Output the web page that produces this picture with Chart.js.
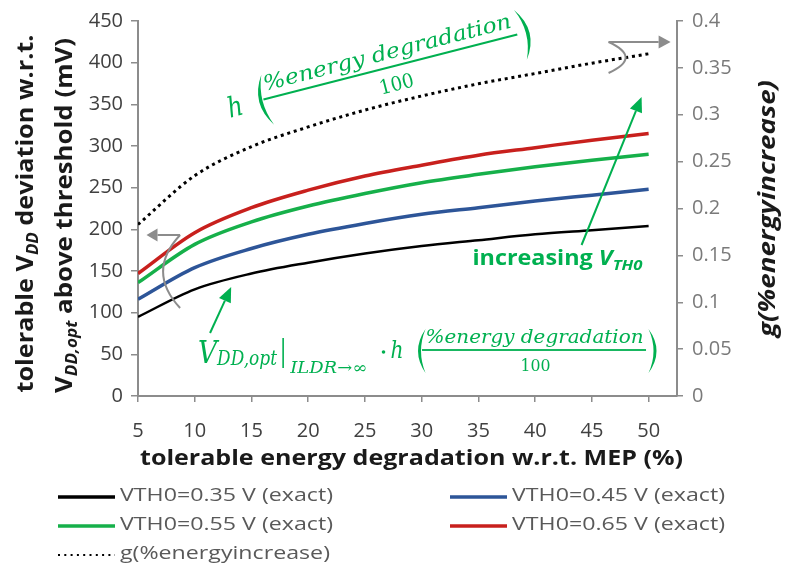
<!DOCTYPE html>
<html>
<head>
<meta charset="utf-8">
<script src="https://cdn.jsdelivr.net/npm/chart.js@4.4.1/dist/chart.umd.min.js"></script>
<style>
  html, body { margin: 0; padding: 0; background: #ffffff; }
  #wrap { width: 788px; height: 572px; position: relative; }
</style>
</head>
<body>
<div id="wrap"><canvas id="chart" width="788" height="572"></canvas></div>
<script>
// tolerable energy degradation w.r.t. MEP (%)
const degradation = [5, 10, 15, 20, 25, 30, 35, 40, 45, 50];
// tolerable VDD deviation above threshold (mV), one series per VTH0
const vth035 = [95, 128, 147, 160, 171, 180, 187, 194, 199, 204];
const vth045 = [116, 154, 177, 194, 207, 218, 226, 234, 241, 248];
const vth055 = [136, 182, 209, 228, 243, 256, 266, 275, 283, 290];
const vth065 = [147, 196, 226, 247, 264, 277, 289, 298, 307, 315];
// g(%energyincrease), right axis
const gIncrease = [0.183, 0.235, 0.266, 0.287, 0.305, 0.320, 0.333, 0.344, 0.355, 0.365];
// axis ticks
const xTicks = [5, 10, 15, 20, 25, 30, 35, 40, 45, 50];
const leftTicks = [0, 50, 100, 150, 200, 250, 300, 350, 400, 450];
const rightTicks = [0, 0.05, 0.1, 0.15, 0.2, 0.25, 0.3, 0.35, 0.4];

const SANS = '"Open Sans", "Noto Sans", sans-serif';
const SERIF = '"DejaVu Serif", "Liberation Serif", serif';
const GREEN = '#00b050';
const GREY = '#8c8c8c';
const AXIS_GREY = '#8c8c8c';

const toPoints = ys => degradation.map((x, i) => ({ x: x, y: ys[i] }));

// ---------- text helpers ----------
function runsWidth(ctx, runs) {
  let w = 0;
  for (const r of runs) { ctx.font = r.font; w += ctx.measureText(r.t).width; }
  return w;
}
// draws a sequence of styled text runs, optionally squeezed/stretched to a given width
function drawRuns(ctx, runs, x, y, opts) {
  const o = opts || {};
  const W = runsWidth(ctx, runs);
  const s = o.width ? o.width / W : 1;
  ctx.save();
  ctx.translate(x, y);
  if (o.angle) ctx.rotate(o.angle);
  ctx.scale(s, 1);
  let cx = o.align === 'center' ? -W / 2 : (o.align === 'right' ? -W : 0);
  ctx.textAlign = 'left';
  ctx.textBaseline = o.baseline || 'alphabetic';
  for (const r of runs) {
    ctx.font = r.font;
    ctx.fillStyle = r.color || o.color || '#000';
    ctx.fillText(r.t, cx, r.dy || 0);
    cx += ctx.measureText(r.t).width;
  }
  ctx.restore();
}
// crescent-shaped bracket; negative bulge gives "(", positive gives ")"
function paren(ctx, x, top, bottom, bulge, thick) {
  const mid = (top + bottom) / 2;
  ctx.beginPath();
  ctx.moveTo(x, top);
  ctx.quadraticCurveTo(x + 2 * bulge, mid, x, bottom);
  ctx.quadraticCurveTo(x + 2 * bulge - 2 * thick * Math.sign(bulge), mid, x, top);
  ctx.closePath();
  ctx.fill();
}
function arrow(ctx, x1, y1, x2, y2, color, lw, headLen, headHalf) {
  const a = Math.atan2(y2 - y1, x2 - x1);
  const bx = x2 - headLen * Math.cos(a), by = y2 - headLen * Math.sin(a);
  ctx.save();
  ctx.strokeStyle = color; ctx.fillStyle = color; ctx.lineWidth = lw;
  ctx.beginPath(); ctx.moveTo(x1, y1); ctx.lineTo(bx, by); ctx.stroke();
  ctx.beginPath();
  ctx.moveTo(x2, y2);
  ctx.lineTo(bx + headHalf * Math.sin(a), by - headHalf * Math.cos(a));
  ctx.lineTo(bx - headHalf * Math.sin(a), by + headHalf * Math.cos(a));
  ctx.closePath(); ctx.fill();
  ctx.restore();
}
// h( %energy degradation / 100 ) laid out around the centre of its fraction bar
function hFormula(ctx, cx, cy, angle, k, withDot) {
  ctx.save();
  ctx.translate(cx, cy);
  ctx.rotate(angle);
  ctx.scale(k, k);
  ctx.fillStyle = GREEN;
  if (withDot) { ctx.beginPath(); ctx.arc(-150.5, 2, 1.8, 0, Math.PI * 2); ctx.fill(); }
  drawRuns(ctx, [{ t: 'h', font: 'italic 24px ' + SERIF }], -143.5, 8, { width: 13, color: GREEN });
  paren(ctx, -108.5, -21, 23, -7.5, 3);
  drawRuns(ctx, [{ t: '%energy degradation', font: 'italic 18px ' + SERIF }], 0.5, -7,
    { width: 218, align: 'center', color: GREEN });
  ctx.fillRect(-112, -0.9, 224, 1.8);
  drawRuns(ctx, [{ t: '100', font: '17px ' + SERIF }], 1.5, 21, { width: 30, align: 'center', color: GREEN });
  paren(ctx, 114.5, -21, 23, 8, 3);
  ctx.restore();
}

// ---------- titles, callouts and legend ----------
const decorations = {
  id: 'decorations',
  afterDraw(chart) {
    const ctx = chart.ctx;
    const xs = chart.scales.x, ys = chart.scales.y;
    const P = (xv, yv) => [xs.getPixelForValue(xv), ys.getPixelForValue(yv)];
    const area = chart.chartArea;
    const midY = (area.top + area.bottom) / 2;

    // left axis title (two lines)
    const B = 'bold 24px ' + SANS, BI = 'bold italic 16px ' + SANS;
    drawRuns(ctx, [
      { t: 'tolerable ', font: B }, { t: 'V', font: B }, { t: 'DD', font: BI, dy: 5 },
      { t: ' deviation w.r.t.', font: B }
    ], 33, midY + 5, { width: 358, align: 'center', angle: -Math.PI / 2, color: '#1a1a1a' });
    drawRuns(ctx, [
      { t: 'V', font: B }, { t: 'DD,opt', font: BI, dy: 5 },
      { t: ' above threshold (mV)', font: B }
    ], 72, midY + 7, { width: 355, align: 'center', angle: -Math.PI / 2, color: '#1a1a1a' });

    // right axis title
    drawRuns(ctx, [{ t: 'g(%energyincrease)', font: 'bold italic 23px ' + SANS }],
      775, midY, { width: 257, align: 'center', angle: -Math.PI / 2, color: '#1a1a1a' });

    // x axis title
    drawRuns(ctx, [{ t: 'tolerable energy degradation w.r.t. MEP (%)', font: 'bold 21px ' + SANS }],
      (area.left + area.right) / 2 + 4, 465, { width: 543, align: 'center', color: '#1a1a1a' });

    // grey callouts: which axis each group belongs to
    ctx.save();
    ctx.strokeStyle = GREY; ctx.lineWidth = 2;
    let a = P(8.71, 193.2), b = P(8.71, 105.6), c = P(7.21, 151.2);
    ctx.beginPath(); ctx.moveTo(a[0], a[1]);
    ctx.quadraticCurveTo(2 * c[0] - a[0], (a[1] + b[1]) / 2, b[0], b[1]); ctx.stroke();
    a = P(46.47, 424.8); b = P(46.47, 387.6); c = P(47.97, 406.8);
    ctx.beginPath(); ctx.moveTo(a[0], a[1]);
    ctx.quadraticCurveTo(2 * c[0] - a[0], (a[1] + b[1]) / 2, b[0], b[1]); ctx.stroke();
    ctx.restore();
    let f = P(8.71, 193.2), t = P(5.75, 193.2);
    arrow(ctx, f[0], f[1], t[0], t[1], GREY, 2, 11, 6.5);
    f = P(46.47, 424.8); t = P(51.94, 424.8);
    arrow(ctx, f[0], f[1], t[0], t[1], GREY, 2, 12, 6.5);

    // green callouts
    f = P(11.35, 75.6); t = P(13.21, 130.8);
    arrow(ctx, f[0], f[1], t[0], t[1], GREEN, 2, 15, 6.5);
    f = P(44.09, 181.2); t = P(49.38, 358.8);
    arrow(ctx, f[0], f[1], t[0], t[1], GREEN, 2, 15, 6.5);

    let q = P(34.47, 157.2);
    drawRuns(ctx, [
      { t: 'increasing ', font: 'bold 21px ' + SANS },
      { t: 'V', font: 'bold italic 21px ' + SANS },
      { t: 'TH0', font: 'bold italic 15px ' + SANS, dy: 5 }
    ], q[0], q[1], { width: 170, color: GREEN });

    // VDD,opt|ILDR→∞ · h(...)
    q = P(10.29, 39.6);
    drawRuns(ctx, [
      { t: 'V', font: 'italic 31px ' + SERIF },
      { t: 'DD,opt', font: 'italic 20px ' + SERIF, dy: 2 }
    ], q[0], q[1], { width: 79, color: GREEN });
    const bar = P(17.79, 69.6), barEnd = P(17.79, 33.6);
    ctx.save(); ctx.strokeStyle = GREEN; ctx.lineWidth = 1.6;
    ctx.beginPath(); ctx.moveTo(bar[0], bar[1]); ctx.lineTo(barEnd[0], barEnd[1]); ctx.stroke(); ctx.restore();
    q = P(18.41, 27.6);
    drawRuns(ctx, [{ t: 'ILDR\u2192\u221E', font: 'italic 16px ' + SERIF }], q[0], q[1], { width: 77, color: GREEN });
    q = P(39.9, 55.2);
    hFormula(ctx, q[0], q[1], 0, 1, true);
    q = P(27.24, 394.8);
    hFormula(ctx, q[0], q[1], -14.4 * Math.PI / 180, 1.17, false);

    // legend (two columns)
    const slots = [[58, 497], [450, 497], [58, 526], [450, 526], [58, 555]];
    const lf = '19px ' + SANS;
    ctx.font = lf;
    const sx = 213 / ctx.measureText(chart.data.datasets[0].label).width;
    chart.data.datasets.forEach((ds, i) => {
      const [lx, ly] = slots[i];
      ctx.save();
      ctx.strokeStyle = ds.borderColor;
      if (ds.borderDash) { ctx.setLineDash([2, 4.3]); ctx.lineWidth = 2; }
      else { ctx.lineWidth = 3.5; }
      ctx.beginPath(); ctx.moveTo(lx, ly); ctx.lineTo(lx + 57, ly); ctx.stroke();
      ctx.restore();
      ctx.save();
      ctx.translate(lx + 62, ly - 1);
      ctx.scale(sx, 1);
      ctx.font = lf; ctx.fillStyle = '#595959';
      ctx.textAlign = 'left'; ctx.textBaseline = 'middle';
      ctx.fillText(ds.label, 0, 0);
      ctx.restore();
    });
  }
};

const tickGrid = { display: true, drawOnChartArea: false, drawTicks: true, tickLength: 7, color: AXIS_GREY, lineWidth: 1.5 };
const axisBorder = { display: true, color: AXIS_GREY, width: 2 };

new Chart(document.getElementById('chart'), {
  type: 'line',
  data: {
    datasets: [
      { label: 'VTH0=0.35 V (exact)', data: toPoints(vth035), borderColor: '#000000', borderWidth: 2.5, yAxisID: 'y' },
      { label: 'VTH0=0.45 V (exact)', data: toPoints(vth045), borderColor: '#2d5598', borderWidth: 3.5, yAxisID: 'y' },
      { label: 'VTH0=0.55 V (exact)', data: toPoints(vth055), borderColor: '#16b04a', borderWidth: 3.5, yAxisID: 'y' },
      { label: 'VTH0=0.65 V (exact)', data: toPoints(vth065), borderColor: '#c8201d', borderWidth: 3.5, yAxisID: 'y' },
      { label: 'g(%energyincrease)', data: toPoints(gIncrease), borderColor: '#000000', borderWidth: 3,
        borderDash: [3, 3.8], yAxisID: 'y2' }
    ]
  },
  options: {
    responsive: false,
    animation: false,
    devicePixelRatio: 1,
    layout: { padding: { top: 21, bottom: 96, left: 0, right: 0 } },
    elements: { point: { radius: 0 }, line: { cubicInterpolationMode: 'monotone', fill: false } },
    plugins: { legend: { display: false }, tooltip: { enabled: false } },
    scales: {
      x: {
        type: 'linear', position: 'bottom', min: 5, max: 52.5,
        afterBuildTicks: s => { s.ticks = xTicks.map(v => ({ value: v })); },
        afterFit: s => { s.height = 80; },
        ticks: { color: '#404040', font: { family: SANS, size: 20 }, padding: 17, maxRotation: 0 },
        grid: Object.assign({}, tickGrid, { tickLength: 6 }),
        border: axisBorder
      },
      y: {
        type: 'linear', position: 'left', min: 0, max: 450,
        afterBuildTicks: s => { s.ticks = leftTicks.map(v => ({ value: v })); },
        afterFit: s => { s.width = 138; },
        ticks: { color: '#404040', font: { family: SANS, size: 20 }, padding: 8 },
        grid: tickGrid,
        border: axisBorder
      },
      y2: {
        type: 'linear', position: 'right', min: 0, max: 0.4,
        afterBuildTicks: s => { s.ticks = rightTicks.map(v => ({ value: v })); },
        afterFit: s => { s.width = 111; },
        ticks: { color: '#7a7a7a', font: { family: SANS, size: 20 }, padding: 9,
          callback: v => String(Number(v.toFixed(2))) },
        grid: Object.assign({}, tickGrid, { tickLength: 6 }),
        border: axisBorder
      }
    }
  },
  plugins: [decorations]
});
</script>
</body>
</html>
